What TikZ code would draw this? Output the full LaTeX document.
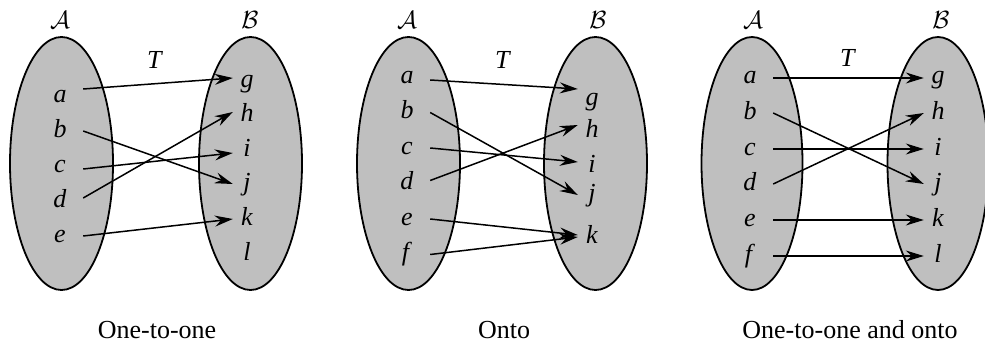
\documentclass[tikz,border=0pt]{standalone}
\usepackage{fontspec}
\setmainfont{Liberation Serif}
\usetikzlibrary{arrows.meta}
\tikzset{
  setbox/.style={draw, line width=1.8pt, fill=gray!50},
  src/.style={anchor=base, minimum width=46pt, inner sep=0pt, text height=12pt, text depth=0pt},
  dst/.style={anchor=base, minimum width=28pt, inner sep=0pt, text height=12pt, text depth=0pt},
  setname/.style={font=\fontsize{23}{26}\selectfont},
  map/.style={line width=1.5pt, -{Stealth[length=18pt, width=11pt, inset=6pt]}}
}
\begin{document}
\begin{tikzpicture}[x=1pt, y=-1pt, every node/.style={font=\fontsize{26}{30}\selectfont}]
  \useasboundingbox (0,0) rectangle (985,345);
  % one-to-one
  \draw[setbox] (61.5,163.5) ellipse [x radius=51.5, y radius=126.5];
  \draw[setbox] (250.5,163.5) ellipse [x radius=51.5, y radius=126.5];
  \node[setname] (A1) at (60,20) {$\mathcal{A}$};
  \node[setname] (B1) at (250,20) {$\mathcal{B}$};
  \node (T1) at (155,60) {\textit{T}};
  \node[src] (a1) at (60,102) {\textit{a}};
  \node[src] (b1) at (60,137) {\textit{b}};
  \node[src] (c1) at (60,172) {\textit{c}};
  \node[src] (d1) at (60,207) {\textit{d}};
  \node[src] (e1) at (60,242) {\textit{e}};
  \node[dst] (g1) at (247,87) {\textit{g}};
  \node[dst] (h1) at (247,121) {\textit{h}};
  \node[dst] (i1) at (247,156) {\textit{i}};
  \node[dst] (j1) at (247,190) {\textit{j}};
  \node[dst] (k1) at (247,225) {\textit{k}};
  \node[dst] (l1) at (247,260) {\textit{l}};
  \draw[map] ([yshift=7pt]a1.east) -- ([yshift=3pt]g1.west);
  \draw[map] (b1.east) -- (j1.west);
  \draw[map] ([yshift=-3pt]c1.east) -- ([yshift=-3pt]i1.west);
  \draw[map] ([yshift=3pt]d1.east) -- ([yshift=3pt]h1.west);
  \draw[map] (e1.east) -- (k1.west);
  \node (cap1) at (157,330) {One-to-one};
  % onto
  \draw[setbox] (408.5,163.5) ellipse [x radius=51.5, y radius=126.5];
  \draw[setbox] (595.5,163.5) ellipse [x radius=51.5, y radius=126.5];
  \node[setname] (A2) at (407,20) {$\mathcal{A}$};
  \node[setname] (B2) at (598,20) {$\mathcal{B}$};
  \node (T2) at (503,60) {\textit{T}};
  \node[src] (a2) at (407,83) {\textit{a}};
  \node[src] (b2) at (407,118.5) {\textit{b}};
  \node[src] (c2) at (407,154) {\textit{c}};
  \node[src] (d2) at (407,189.5) {\textit{d}};
  \node[src] (e2) at (407,225) {\textit{e}};
  \node[src] (f2) at (407,260.5) {\textit{f}};
  \node[dst] (g2) at (592,105) {\textit{g}};
  \node[dst] (h2) at (592,137) {\textit{h}};
  \node[dst] (i2) at (592,172) {\textit{i}};
  \node[dst] (j2) at (592,201) {\textit{j}};
  \node[dst] (k2) at (592,243) {\textit{k}};
  \draw[map] ([yshift=-3pt]a2.east) -- ([yshift=10pt]g2.west);
  \draw[map] (b2.east) -- (j2.west);
  \draw[map] (c2.east) -- ([yshift=4pt]i2.west);
  \draw[map] ([yshift=3pt]d2.east) -- ([yshift=6pt]h2.west);
  \draw[map] (e2.east) -- ([yshift=2pt]k2.west);
  \draw[map] (f2.east) -- (k2.west);
  \node (cap2) at (504,330) {Onto};
  % one-to-one and onto
  \draw[setbox] (752,163.5) ellipse [x radius=50.5, y radius=126.5];
  \draw[setbox] (938,163.5) ellipse [x radius=50.5, y radius=126.5];
  \node[setname] (A3) at (753,20) {$\mathcal{A}$};
  \node[setname] (B3) at (941,20) {$\mathcal{B}$};
  \node (T3) at (848,58) {\textit{T}};
  \node[src] (a3) at (750,84) {\textit{a}};
  \node[src] (b3) at (750,119) {\textit{b}};
  \node[src] (c3) at (750,155) {\textit{c}};
  \node[src] (d3) at (750,190) {\textit{d}};
  \node[src] (e3) at (750,226) {\textit{e}};
  \node[src] (f3) at (750,262) {\textit{f}};
  \node[dst] (g3) at (938,84) {\textit{g}};
  \node[dst] (h3) at (938,119) {\textit{h}};
  \node[dst] (i3) at (938,155) {\textit{i}};
  \node[dst] (j3) at (938,190) {\textit{j}};
  \node[dst] (k3) at (938,226) {\textit{k}};
  \node[dst] (l3) at (938,262) {\textit{l}};
  \draw[map] (a3.east) -- (g3.west);
  \draw[map] (b3.east) -- (j3.west);
  \draw[map] (c3.east) -- (i3.west);
  \draw[map] (d3.east) -- (h3.west);
  \draw[map] (e3.east) -- (k3.west);
  \draw[map] (f3.east) -- (l3.west);
  \node (cap3) at (850,330) {One-to-one and onto};
\end{tikzpicture}
\end{document}
